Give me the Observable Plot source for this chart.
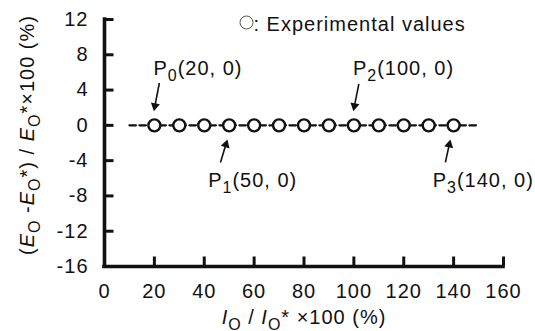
<!DOCTYPE html>
<html><head><meta charset="utf-8">
<script src="https://cdn.jsdelivr.net/npm/d3@7"></script>
<script src="https://cdn.jsdelivr.net/npm/@observablehq/plot@0.6"></script>
<style>
html,body{margin:0;padding:0;background:#fff;}
#chart svg text{letter-spacing:1px;}
</style></head><body><div id="chart"></div>
<script>
// ---- data ----
const xValues = [20, 30, 40, 50, 60, 70, 80, 90, 100, 110, 120, 130, 140];
const yValues = [0, 0, 0, 0, 0, 0, 0, 0, 0, 0, 0, 0, 0];
const fitX = [10, 150];
const fitY = [0, 0];
const xTicks = [0, 20, 40, 60, 80, 100, 120, 140, 160];
const yTicks = [12, 8, 4, 0, -4, -8, -12, -16];
const labelIdx = ["0", "1", "2", "3"];
const labelX = [20, 50, 100, 140];
const labelY = [0, 0, 0, 0];
const labelAbove = [true, false, true, false];
const arrowTailX = [22.0, 46.5, 102.0, 136.7];
const arrowTailY = [4.8, -4.2, 4.7, -4.2];
const arrowTipX = [19.8, 49.3, 99.8, 138.7];
const arrowTipY = [1.6, -1.6, 1.6, -1.6];
const legendText = ": Experimental values";
const xLabel = "{I}{_O} / {I}{_O}* ×100 (%)";
const yLabel = "({E}{_O} -{E}{_O}*) / {E}{_O}*×100 (%)";

// ---- layout ----
const W = 535, H = 331, mL = 104, mR = 32, mT = 19, mB = 65;
const kx = (W - mL - mR) / 160, ky = (H - mT - mB) / 28;
const ink = "#111";
const font = "'Liberation Sans', Arial, sans-serif";
const tickLen = 9.5;

const points = xValues.map((x, i) => ({x, y: yValues[i]}));
const fit = fitX.map((x, i) => ({x, y: fitY[i]}));
const labels = labelIdx.map((s, i) => ({
  x: labelX[i], y: labelY[i], above: labelAbove[i],
  text: `P{_${s}}(${labelX[i]}, ${labelY[i]})`
}));
const headR = 3.4, headBack = 2 * Math.sqrt(headR * headR * Math.PI / (Math.sqrt(3) * 3));
const arrows = labelIdx.map((_, i) => {
  const px = (arrowTipX[i] - arrowTailX[i]) * kx, py = -(arrowTipY[i] - arrowTailY[i]) * ky;
  const len = Math.hypot(px, py), ux = px / len, uy = py / len;
  return {
    x1: arrowTailX[i], y1: arrowTailY[i],
    hx: arrowTipX[i] - ux * headBack / kx, hy: arrowTipY[i] + uy * headBack / ky,
    rot: Math.atan2(ux, -uy) * 180 / Math.PI
  };
});
const legendPos = {x: (246 - mL) / kx, y: 12 - (22 - mT) / ky};

const plot = Plot.plot({
  width: W, height: H, marginLeft: mL, marginRight: mR, marginTop: mT, marginBottom: mB,
  style: {fontFamily: font, fontSize: "20px", color: ink, background: "#fff", overflow: "visible"},
  x: {domain: [0, 160]},
  y: {domain: [-16, 12]},
  marks: [
    Plot.axisX({ticks: xTicks, tickSize: 0, tickPadding: 17, tickFormat: d => String(d), label: null, fontSize: 20, fill: ink}),
    Plot.axisY({ticks: yTicks, tickSize: 0, tickPadding: 16, tickFormat: d => String(d), label: null, fontSize: 20, fill: ink}),
    Plot.ruleX(xTicks, {x: d => d, y1: -16, y2: -16 + tickLen / ky, stroke: ink, strokeWidth: 3}),
    Plot.ruleY(yTicks, {y: d => d, x1: 0, x2: tickLen / kx, stroke: ink, strokeWidth: 3}),
    Plot.ruleX([0], {y1: -16, y2: 12, stroke: ink, strokeWidth: 3.6, strokeLinecap: "square"}),
    Plot.ruleY([-16], {x1: 0, x2: 160, stroke: ink, strokeWidth: 3.6, strokeLinecap: "square"}),
    Plot.line(fit, {x: "x", y: "y", stroke: ink, strokeWidth: 2.3, strokeDasharray: "6.5,3.5"}),
    Plot.dot(points, {x: "x", y: "y", r: 6, fill: "white", stroke: ink, strokeWidth: 2.4}),
    Plot.link(arrows, {x1: "x1", y1: "y1", x2: "hx", y2: "hy", stroke: ink, strokeWidth: 1.6}),
    Plot.dot(arrows, {x: "hx", y: "hy", symbol: "triangle", r: headR, fill: ink, stroke: "none", rotate: "rot"}),
    Plot.text(labels.filter(d => d.above), {x: "x", y: "y", text: "text", textAnchor: "start", lineAnchor: "bottom", dx: -1, dy: -50, fontSize: 20, fill: ink}),
    Plot.text(labels.filter(d => !d.above), {x: "x", y: "y", text: "text", textAnchor: "start", lineAnchor: "bottom", dx: -21, dy: 62, fontSize: 20, fill: ink}),
    Plot.dot([legendPos], {x: "x", y: "y", r: 6.5, fill: "white", stroke: "#555", strokeWidth: 1}),
    Plot.text([legendPos], {x: "x", y: "y", text: () => legendText, textAnchor: "start", lineAnchor: "bottom", dx: 7, dy: 8, fontSize: 20, fill: ink}),
    Plot.text([xLabel], {frameAnchor: "bottom", x: null, y: null, text: d => d, textAnchor: "middle", lineAnchor: "bottom", dy: 57, fontSize: 20, fill: ink}),
    Plot.text([yLabel], {frameAnchor: "left", x: null, y: null, text: d => d, textAnchor: "middle", lineAnchor: "bottom", rotate: -90, dx: -71, dy: -8, fontSize: 20, fill: ink})
  ]
});

// rich text: {X} italic, {_X} subscript
const SVGNS = "http://www.w3.org/2000/svg";
plot.querySelectorAll("text").forEach(t => {
  const s = t.textContent;
  if (!s.includes("{")) return;
  t.textContent = "";
  const re = /\{([_]?)([^}]*)\}|([^{]+)/g;
  let m, shift = 0;
  while ((m = re.exec(s))) {
    const ts = document.createElementNS(SVGNS, "tspan");
    let target = 0;
    if (m[3] !== undefined) {
      ts.textContent = m[3];
    } else if (m[1] === "_") {
      ts.textContent = m[2];
      ts.setAttribute("font-size", "16");
      target = 6;
    } else {
      ts.textContent = m[2];
      ts.setAttribute("font-style", "italic");
    }
    if (target !== shift) { ts.setAttribute("dy", String(target - shift)); shift = target; }
    t.appendChild(ts);
  }
});
document.getElementById("chart").appendChild(plot);
</script></body></html>
